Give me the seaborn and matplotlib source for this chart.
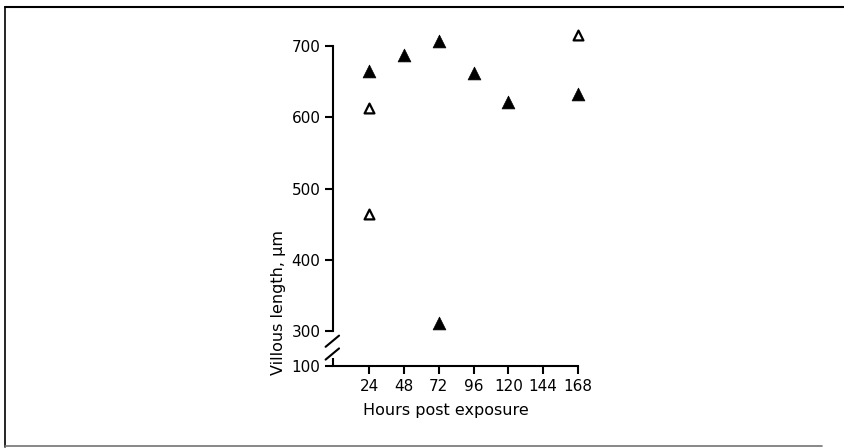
import numpy as np
import pandas as pd
import seaborn as sns
import matplotlib.pyplot as plt
from matplotlib.lines import Line2D

# ------------------------------------------------------------
# Data
# ------------------------------------------------------------
filled_hours = [24, 48, 72, 72, 96, 120, 168]
filled_length = [665, 687, 707, 311, 662, 621, 633]
open_hours = [24, 24, 168]
open_length = [613, 464, 715]

x_ticks = [24, 48, 72, 96, 120, 144, 168]
y_ticks = [100, 300, 400, 500, 600, 700]

filled = pd.DataFrame({"hours": filled_hours, "length": filled_length})
hollow = pd.DataFrame({"hours": open_hours, "length": open_length})

# ------------------------------------------------------------
# Style
# ------------------------------------------------------------
sns.set_style("ticks")
plt.rcParams["font.family"] = ["DejaVu Sans"]
plt.rcParams["font.size"] = 11
for key in ["text.color", "axes.labelcolor", "xtick.color", "ytick.color",
            "axes.edgecolor"]:
    plt.rcParams[key] = "black"
plt.rcParams["axes.linewidth"] = 1.5
plt.rcParams["xtick.major.width"] = 1.5
plt.rcParams["ytick.major.width"] = 1.5
plt.rcParams["xtick.major.size"] = 6
plt.rcParams["ytick.major.size"] = 6

# broken y axis: values below 300 are squeezed
K = 0.2456


def fwd(v):
    v = np.asarray(v, dtype=float)
    return np.where(v >= 300, v, 300 - (300 - v) * K)


def inv(w):
    w = np.asarray(w, dtype=float)
    return np.where(w >= 300, w, 300 - (300 - w) / K)


fig = plt.figure(figsize=(8.45, 4.48), dpi=100)
ax = fig.add_axes([0.394, 0.183, 0.29, 0.714])
ax.set_yscale("function", functions=(fwd, inv))

sns.scatterplot(data=filled, x="hours", y="length", marker="^", s=85,
                color="black", edgecolor="black", linewidth=0.5,
                ax=ax, clip_on=False, zorder=3)
sns.scatterplot(data=hollow, x="hours", y="length", marker="^", s=50,
                facecolor="white", edgecolor="black", linewidth=1.6,
                ax=ax, clip_on=False, zorder=3)

ax.set_xlim(-1, 168)
ax.set_ylim(100, 700)
ax.set_xticks(x_ticks)
ax.set_yticks(y_ticks)
ax.tick_params(labelsize=11, pad=3)

ax.set_xlabel("Hours post exposure", fontsize=11.5)
ax.set_ylabel("Villous length, μm", fontsize=11.5)
ax.yaxis.set_label_coords(-0.19, 0.2)
ax.xaxis.set_label_coords(0.46, -0.115)

sns.despine(ax=ax)
ax.spines["left"].set_bounds(300, 700)
# short stub of the y axis below the break
ax.plot([-1, -1], [100, 146], color="black", lw=1.5, clip_on=False,
        solid_capstyle="butt")
# break marks
for y0 in (0.02, 0.06):
    ax.plot([-0.03, 0.025], [y0, y0 + 0.035], transform=ax.transAxes,
            color="black", lw=1.5, clip_on=False)

# ------------------------------------------------------------
# Scanned page frame
# ------------------------------------------------------------
fig.add_artist(Line2D([0.006, 1.0], [0.985, 0.985], color="black", lw=1.5))
fig.add_artist(Line2D([0.006, 0.006], [0.003, 0.985], color="black", lw=1.2))
fig.add_artist(Line2D([0.006, 0.973], [0.004, 0.004], color="0.45", lw=1.2))

fig.savefig("out.png", dpi=100)
